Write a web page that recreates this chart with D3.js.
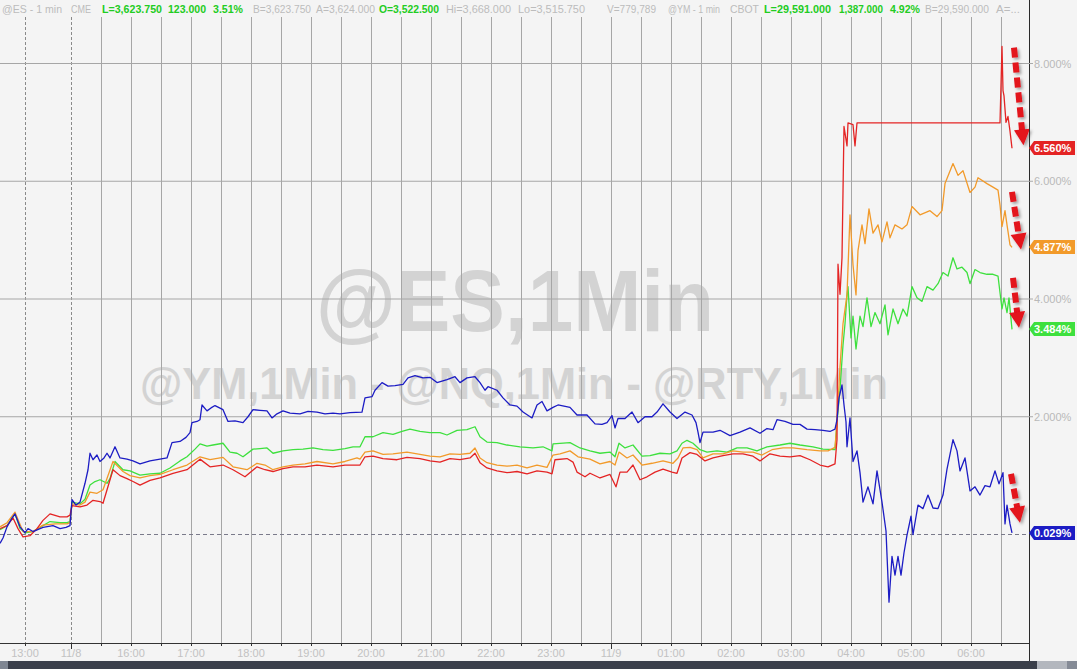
<!DOCTYPE html>
<html><head><meta charset="utf-8">
<script src="https://cdn.jsdelivr.net/npm/d3@7"></script>
<style>html,body{margin:0;padding:0;background:#f4f4f4;overflow:hidden}</style>
</head><body><svg id="c" width="1077" height="669"></svg>
<script>
// ---- data (x = minutes of trading bars since 12:35, value = % change) ----
const tickLabels = ["13:00","11/8","16:00","17:00","18:00","19:00","20:00","21:00","22:00","23:00","11/9","01:00","02:00","03:00","04:00","05:00","06:00"];
const tickMinutes = [25,71,131,191,251,311,371,431,491,551,611,671,731,791,851,911,971];
const halfHourMinutes = [101,161,221,281,341,401,461,521,581,641,701,761,821,881,941,1001];
const dashedTicks = ["13:00","11/8"];
const yTicks = [2,4,6,8];
const yTickLabels = ["2.000%","4.000%","6.000%","8.000%"];

const seriesNames = ["@ES","@YM","@RTY","@NQ"];
const seriesColors = ["#3ee03e","#f29a2a","#e42424","#1c1cc4"];
const lastValues = [3.484, 4.877, 6.560, 0.029];
const lastLabels = ["3.484%","4.877%","6.560%","0.029%"];

const esData = [[0,0.08],[7,0.15],[15,0.35],[20,0.1],[25,0.03],[33,0.05],[40,0.12],[50,0.22],[60,0.2],[67,0.2],[70,0.22],[72,0.55],[80,0.52],[85,0.6],[90,0.84],[95,0.9],[100,0.93],[107,0.87],[110,0.95],[115,1.24],[123,1.1],[130,1.08],[140,1.01],[150,1.03],[160,1.04],[170,1.13],[180,1.25],[187,1.32],[195,1.45],[200,1.54],[207,1.5],[213,1.52],[223,1.55],[230,1.4],[237,1.38],[243,1.32],[253,1.45],[260,1.46],[267,1.47],[273,1.38],[283,1.42],[293,1.44],[303,1.45],[313,1.47],[323,1.44],[333,1.43],[345,1.46],[353,1.49],[360,1.49],[365,1.66],[373,1.66],[383,1.73],[393,1.7],[402,1.75],[410,1.79],[420,1.75],[430,1.73],[440,1.73],[447,1.69],[457,1.77],[467,1.78],[475,1.83],[480,1.66],[487,1.57],[497,1.56],[507,1.52],[520,1.49],[533,1.47],[543,1.49],[552,1.42],[553,1.54],[570,1.56],[580,1.47],[590,1.42],[600,1.38],[610,1.4],[615,1.32],[619,1.55],[625,1.47],[633,1.52],[642,1.33],[650,1.34],[660,1.38],[670,1.37],[677,1.42],[682,1.55],[687,1.6],[693,1.55],[700,1.44],[707,1.4],[717,1.42],[727,1.4],[737,1.47],[747,1.47],[757,1.42],[767,1.49],[780,1.52],[790,1.55],[800,1.52],[813,1.49],[823,1.45],[835,1.44],[837,1.91],[840,2.47],[843,3.22],[845,3.58],[847,4.07],[848,4.21],[851,3.34],[853,3.71],[856,3.15],[860,3.71],[863,3.53],[867,4.02],[871,3.53],[875,3.77],[880,3.58],[885,3.9],[888,3.39],[893,3.83],[898,3.58],[903,3.83],[907,3.71],[912,4.21],[917,4.02],[922,3.96],[927,4.21],[933,4.15],[938,4.26],[943,4.45],[948,4.39],[953,4.7],[957,4.51],[962,4.54],[967,4.45],[970,4.26],[975,4.5],[980,4.45],[987,4.42],[993,4.42],[998,4.39],[1002,3.83],[1004,4.02],[1007,3.77],[1009,4.02],[1012,3.484]];

const ymData = [[0,0.13],[7,0.2],[15,0.38],[23,0.05],[33,0.05],[43,0.16],[55,0.18],[67,0.18],[70,0.2],[72,0.52],[80,0.5],[85,0.55],[90,0.72],[97,0.7],[103,0.76],[113,1.24],[123,1.07],[130,1.0],[140,0.96],[150,1.0],[160,1.02],[173,1.1],[187,1.18],[200,1.32],[210,1.27],[223,1.31],[233,1.15],[247,1.1],[257,1.21],[265,1.18],[273,1.1],[283,1.15],[293,1.18],[305,1.2],[317,1.24],[333,1.2],[345,1.24],[357,1.3],[360,1.28],[365,1.4],[373,1.42],[383,1.36],[393,1.37],[407,1.4],[420,1.36],[430,1.33],[440,1.32],[450,1.37],[460,1.36],[470,1.38],[475,1.47],[480,1.3],[487,1.22],[497,1.18],[507,1.16],[517,1.18],[527,1.13],[537,1.18],[547,1.14],[553,1.35],[560,1.37],[570,1.42],[578,1.32],[590,1.28],[600,1.2],[610,1.24],[615,1.18],[619,1.4],[627,1.3],[633,1.35],[642,1.18],[652,1.21],[663,1.25],[673,1.21],[678,1.3],[683,1.47],[690,1.48],[697,1.44],[703,1.3],[713,1.37],[723,1.37],[733,1.42],[743,1.4],[753,1.4],[762,1.35],[772,1.44],[783,1.47],[793,1.47],[807,1.44],[820,1.42],[828,1.42],[835,1.48],[837,1.91],[840,2.85],[843,3.58],[847,4.07],[850,5.43],[853,4.58],[856,4.07],[858,4.82],[862,5.26],[865,4.94],[869,5.53],[873,5.12],[878,5.26],[882,4.97],[887,5.31],[890,5.04],[895,5.26],[902,5.19],[907,5.26],[912,5.57],[920,5.43],[930,5.5],[937,5.4],[942,5.5],[945,5.96],[953,6.3],[958,6.1],[963,6.18],[970,5.81],[975,5.9],[978,6.06],[987,5.96],[993,5.9],[998,5.85],[1000,5.6],[1002,5.23],[1005,5.5],[1007,5.26],[1010,4.92],[1012,4.877]];

const rtyData = [[0,0.1],[7,0.15],[13,0.28],[18,0.1],[23,-0.04],[30,-0.02],[37,0.1],[43,0.24],[50,0.35],[60,0.3],[67,0.3],[70,0.33],[72,0.49],[80,0.47],[87,0.5],[93,0.58],[100,0.56],[103,0.53],[113,1.1],[120,1.0],[127,0.95],[133,0.9],[140,0.84],[150,0.92],[160,0.96],[173,1.04],[187,1.1],[200,1.28],[210,1.15],[223,1.18],[233,1.1],[245,0.98],[257,1.15],[265,1.1],[273,1.07],[283,1.12],[293,1.15],[305,1.15],[317,1.18],[333,1.15],[345,1.18],[360,1.18],[365,1.32],[373,1.33],[383,1.29],[397,1.27],[407,1.31],[420,1.29],[430,1.25],[440,1.23],[450,1.29],[460,1.27],[470,1.3],[475,1.38],[480,1.22],[487,1.13],[497,1.08],[507,1.05],[517,1.07],[527,1.03],[537,1.08],[547,1.06],[552,1.03],[555,1.27],[567,1.29],[573,1.23],[577,1.06],[585,0.98],[590,1.04],[600,0.96],[610,1.02],[616,0.81],[620,1.06],[627,1.06],[633,1.18],[640,0.93],[647,0.98],[655,1.06],[663,1.11],[672,1.06],[677,1.04],[682,1.3],[690,1.39],[697,1.36],[705,1.25],[713,1.3],[723,1.34],[733,1.37],[743,1.37],[753,1.33],[760,1.25],[770,1.37],[780,1.33],[790,1.32],[800,1.34],[810,1.27],[820,1.18],[828,1.15],[835,1.2],[837,1.61],[838,4.59],[840,4.08],[842,4.7],[844,6.93],[847,6.6],[848,6.99],[853,6.96],[855,6.6],[857,6.99],[1000,6.99],[1002,8.29],[1003,7.54],[1004,7.45],[1006,7.0],[1008,7.1],[1010,6.85],[1012,6.56]];

const nqData = [[0,-0.15],[3,-0.06],[7,0.13],[12,0.28],[15,0.35],[20,0.13],[25,0.03],[28,0.1],[33,0.05],[43,0.12],[53,0.15],[60,0.1],[66,0.12],[70,0.15],[72,0.59],[76,0.5],[80,0.55],[85,0.87],[88,1.1],[90,1.38],[93,1.27],[97,1.35],[100,1.24],[104,1.3],[107,1.38],[110,1.3],[115,1.49],[120,1.3],[127,1.28],[133,1.25],[140,1.2],[150,1.25],[160,1.28],[167,1.3],[172,1.56],[180,1.58],[186,1.65],[190,1.73],[192,1.9],[197,1.92],[200,1.95],[202,2.2],[207,2.1],[211,2.15],[215,2.19],[223,2.12],[228,1.92],[235,1.93],[243,1.9],[248,2.0],[253,2.12],[260,2.11],[267,2.1],[272,1.98],[277,2.05],[283,2.1],[290,2.06],[300,2.05],[308,2.09],[317,2.08],[325,2.05],[333,2.06],[340,2.05],[350,2.07],[362,2.08],[365,2.32],[372,2.34],[375,2.45],[382,2.58],[388,2.52],[395,2.53],[403,2.55],[408,2.66],[415,2.7],[423,2.66],[430,2.67],[437,2.58],[447,2.63],[455,2.68],[460,2.58],[467,2.66],[475,2.68],[480,2.58],[485,2.45],[488,2.51],[497,2.45],[503,2.32],[510,2.2],[517,2.18],[523,2.08],[532,1.98],[537,2.2],[542,2.26],[547,2.1],[553,2.16],[558,2.2],[570,2.16],[577,2.03],[587,2.03],[595,1.88],[602,1.87],[607,1.9],[612,2.02],[615,1.81],[618,1.97],[625,1.97],[632,2.08],[638,1.9],[645,2.0],[652,2.0],[657,2.08],[663,2.22],[670,2.08],[677,1.97],[685,2.08],[692,2.03],[696,1.9],[698,1.74],[700,1.56],[703,1.74],[713,1.74],[720,1.77],[730,1.68],[740,1.74],[750,1.81],[760,1.72],[767,1.8],[773,1.78],[777,1.95],[785,1.92],[793,1.87],[800,1.87],[807,1.79],[815,1.78],[823,1.77],[830,1.75],[835,1.79],[837,1.95],[839,2.32],[842,2.54],[844,2.2],[846,1.91],[847,1.49],[850,1.98],[853,1.24],[857,1.42],[860,1.05],[863,0.55],[868,0.81],[873,0.52],[877,1.08],[882,0.55],[886,0.06],[889,-1.15],[892,-0.37],[895,-0.69],[898,-0.37],[901,-0.69],[904,-0.31],[907,-0.01],[911,0.31],[913,0.0],[918,0.5],[923,0.44],[928,0.67],[933,0.45],[938,0.44],[943,0.67],[947,1.11],[953,1.61],[957,1.42],[960,1.08],[965,1.3],[970,0.74],[975,0.81],[980,0.67],[985,0.83],[990,0.81],[995,1.08],[999,0.86],[1003,1.05],[1005,0.18],[1007,0.5],[1010,0.18],[1012,0.029]];

// annotation arrows: [startMinute, startValue] -> [tipMinute, tipValue]
const arrowStart = [[1014,8.27],[1012,5.82],[1013,4.36],[1011,1.03]];
const arrowTip = [[1023.5,6.61],[1021,4.84],[1019,3.51],[1020,0.2]];

const headerTexts = ["@ES - 1 min","CME","L=3,623.750","123.000","3.51%","B=3,623.750","A=3,624.000","O=3,522.500","Hi=3,668.000","Lo=3,515.750","V=779,789","@YM - 1 min","CBOT","L=29,591.000","1,387.000","4.92%","B=29,590.000","A=..."];
const headerHighlight = [false,false,true,true,true,false,false,true,false,false,false,false,false,true,true,true,false,false];
const headerOffsets = [2,71,102,168,213,253,316,379,446,518,607,668,730,764,839,890,925,996];
const headerWidths = [60,20,60,38,30,58,59,60,65,67,49,52,29,67,44,30,64,24];

// ---- drawing ----
const W = 1077, H = 669, axisX = 1029, gridTop = 17, axisY = 643;
const FONT = "'Liberation Sans', Arial, sans-serif";
const svg = d3.select('#c');
const x = d3.scaleLinear().domain([0, 1029]).range([0, 1029]);
const y = d3.scaleLinear().domain([0, 8]).range([534.5, 63.5]);

svg.append('rect').attr('width', W).attr('height', H).attr('fill', '#f4f4f4');

const defs = svg.append('defs');
const f = defs.append('filter').attr('id','sh').attr('x','-50%').attr('y','-20%').attr('width','200%').attr('height','140%');
f.append('feDropShadow').attr('dx',2).attr('dy',2).attr('stdDeviation',1.6).attr('flood-color','#000').attr('flood-opacity',0.35);
defs.append('clipPath').attr('id','plot').append('rect').attr('x',0).attr('y',gridTop).attr('width',axisX).attr('height',axisY-gridTop);

// watermarks
svg.append('text').attr('x', 515).attr('y', 331).attr('text-anchor','middle')
  .attr('font-family', FONT).attr('font-weight','bold').attr('font-size', 88)
  .attr('fill','#d3d3d3').attr('textLength',398).attr('lengthAdjust','spacingAndGlyphs').text('@ES,1Min');
svg.append('text').attr('x', 514).attr('y', 399).attr('text-anchor','middle')
  .attr('font-family', FONT).attr('font-weight','bold').attr('font-size', 45)
  .attr('fill','#d3d3d3').attr('textLength',748).attr('lengthAdjust','spacingAndGlyphs').text('@YM,1Min - @NQ,1Min - @RTY,1Min');

// vertical grid
const gridG = svg.append('g');
const allTicks = tickMinutes.map((m,i)=>({m, label: tickLabels[i], major:true})).concat(halfHourMinutes.map(m=>({m,label:null,major:false})));
gridG.selectAll('line.v').data(allTicks).join('line')
  .attr('x1', d => Math.round(x(d.m)) + 0.5).attr('x2', d => Math.round(x(d.m)) + 0.5)
  .attr('y1', gridTop).attr('y2', axisY)
  .attr('stroke', d => dashedTicks.includes(d.label) ? '#8a8a8a' : '#a6a6a6')
  .attr('stroke-dasharray', d => dashedTicks.includes(d.label) ? '3,2' : null)
  .attr('stroke-width', 1);
// horizontal grid
gridG.selectAll('line.h').data(yTicks).join('line')
  .attr('x1', 0).attr('x2', axisX).attr('y1', d => y(d)).attr('y2', d => y(d))
  .attr('stroke', '#a6a6a6').attr('stroke-width', 1);
gridG.append('line').attr('x1',0).attr('x2',axisX).attr('y1',y(0)).attr('y2',y(0))
  .attr('stroke','#7a7a8a').attr('stroke-dasharray','4,3').attr('stroke-width',1);

// series
const line = d3.line().x(d => x(d[0])).y(d => y(d[1]));
const allSeries = [esData, ymData, rtyData, nqData];
const linesG = svg.append('g').attr('clip-path','url(#plot)');
linesG.selectAll('path').data(allSeries).join('path')
  .attr('d', d => line(d)).attr('fill','none')
  .attr('stroke', (d,i) => seriesColors[i]).attr('stroke-width', 1.3)
  .attr('stroke-linejoin','round');

// arrows
const arrowG = svg.append('g').attr('filter','url(#sh)');
arrowStart.forEach((s, i) => {
  const p0 = [x(s[0]), y(s[1])], p1 = [x(arrowTip[i][0]), y(arrowTip[i][1])];
  const dx = p1[0]-p0[0], dy = p1[1]-p0[1], L = Math.hypot(dx,dy);
  const ux = dx/L, uy = dy/L, nx = -uy, ny = ux;
  const hl = 16, hw = 8;
  const bx = p1[0]-ux*hl, by = p1[1]-uy*hl;
  arrowG.append('line').attr('x1',p0[0]).attr('y1',p0[1]).attr('x2',bx+ux*1).attr('y2',by+uy*1)
    .attr('stroke','#e3121c').attr('stroke-width',6).attr('stroke-dasharray','10,5');
  arrowG.append('path').attr('d', `M${p1[0]},${p1[1]}L${bx+nx*hw},${by+ny*hw}L${bx-nx*hw},${by-ny*hw}Z`)
    .attr('fill','#e3121c');
});

// right axis
svg.append('line').attr('x1',axisX+0.5).attr('x2',axisX+0.5).attr('y1',0).attr('y2',661).attr('stroke','#2a2a2a').attr('stroke-width',1);
const ra = svg.append('g');
ra.selectAll('line').data(yTicks).join('line')
  .attr('x1',axisX).attr('x2',axisX+4).attr('y1',d=>y(d)).attr('y2',d=>y(d)).attr('stroke','#aaa');
ra.selectAll('text').data(yTicks).join('text')
  .attr('x',axisX+5).attr('y',d=>y(d)+4).attr('font-family',FONT).attr('font-size',11)
  .attr('fill','#b9b9b9').text((d,i)=>yTickLabels[i]);
// last value tags
const tagG = svg.append('g');
lastValues.forEach((v,i) => {
  const yy = Math.round(y(v));
  tagG.append('path').attr('d', `M${axisX},${yy}L${axisX+5},${yy-7}L${axisX+46},${yy-7}L${axisX+46},${yy+7}L${axisX+5},${yy+7}Z`)
    .attr('fill', seriesColors[i]);
  tagG.append('text').attr('x',axisX+5).attr('y',yy+4).attr('font-family',FONT).attr('font-size',11)
    .attr('font-weight','bold').attr('fill','#fff').text(lastLabels[i]);
});

// x axis
svg.append('line').attr('x1',0).attr('x2',axisX).attr('y1',axisY+0.5).attr('y2',axisY+0.5).attr('stroke','#333').attr('stroke-width',1.2);
const xa = svg.append('g');
xa.selectAll('line').data(allTicks).join('line')
  .attr('x1', d => Math.round(x(d.m))+0.5).attr('x2', d => Math.round(x(d.m))+0.5)
  .attr('y1', axisY).attr('y2', d => (d.label==='11/8'||d.label==='11/9') ? axisY+6 : axisY+3)
  .attr('stroke','#333');
xa.selectAll('text').data(allTicks.filter(d=>d.major)).join('text')
  .attr('x', d => x(d.m)).attr('y', 657).attr('text-anchor','middle')
  .attr('font-family',FONT).attr('font-size',11).attr('fill','#c2c2c2').text(d => d.label);

// bottom scrollbar
svg.append('rect').attr('x',0).attr('y',661).attr('width',W).attr('height',8).attr('fill','#3b404b');
svg.append('rect').attr('x',0).attr('y',661).attr('width',8).attr('height',8).attr('fill','#7f8692');
svg.append('rect').attr('x',1037).attr('y',661).attr('width',30).attr('height',8).attr('fill','#b3b7be');
svg.append('rect').attr('x',1067).attr('y',661).attr('width',10).attr('height',8).attr('fill','#858b96');

// header
const hg = svg.append('g');
headerTexts.forEach((t,i) => {
  hg.append('text').attr('x', headerOffsets[i]).attr('y', 13)
    .attr('font-family',FONT).attr('font-size',11)
    .attr('font-weight', headerHighlight[i] ? 'bold' : 'normal')
    .attr('textLength', headerWidths[i]).attr('lengthAdjust','spacingAndGlyphs')
    .attr('fill', headerHighlight[i] ? '#22cc22' : '#bcbcbc').text(t);
});
</script></body></html>
